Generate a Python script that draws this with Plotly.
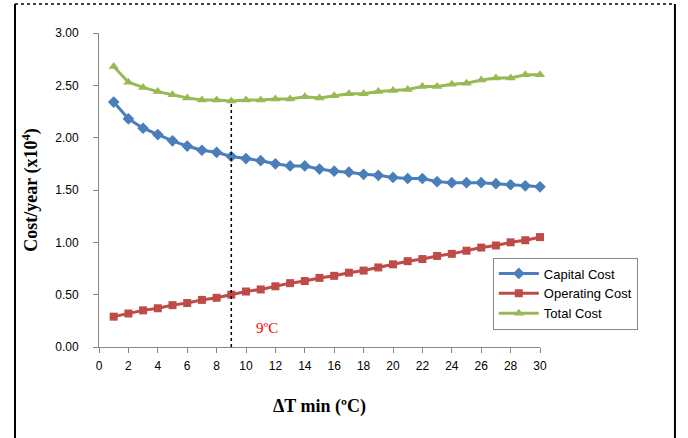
import plotly.graph_objects as go

dt_min = list(range(1, 31))
capital_cost = [2.34, 2.18, 2.09, 2.03, 1.97, 1.92, 1.88, 1.86, 1.82, 1.80,
                1.78, 1.75, 1.73, 1.73, 1.70, 1.68, 1.67, 1.65, 1.64, 1.62,
                1.61, 1.61, 1.58, 1.57, 1.57, 1.57, 1.56, 1.55, 1.54, 1.53]
operating_cost = [0.29, 0.32, 0.35, 0.37, 0.40, 0.42, 0.45, 0.47, 0.50, 0.53,
                  0.55, 0.58, 0.61, 0.63, 0.66, 0.68, 0.71, 0.73, 0.76, 0.79,
                  0.82, 0.84, 0.87, 0.89, 0.92, 0.95, 0.97, 1.00, 1.02, 1.05]
total_cost = [2.68, 2.53, 2.48, 2.44, 2.41, 2.38, 2.36, 2.36, 2.35, 2.36,
              2.36, 2.37, 2.37, 2.39, 2.38, 2.40, 2.42, 2.42, 2.44, 2.45,
              2.46, 2.49, 2.49, 2.51, 2.52, 2.55, 2.57, 2.57, 2.60, 2.60]
optimum_x = 9
optimum_total = 2.35
y_ticks = [0, 0.5, 1.0, 1.5, 2.0, 2.5, 3.0]
x_ticks = list(range(0, 31, 2))

fig = go.Figure()
fig.add_trace(go.Scatter(x=dt_min, y=capital_cost, name="Capital Cost", mode="lines+markers",
                         line=dict(color="#4A7EBB", width=3),
                         marker=dict(symbol="diamond", size=9, color="#4A7EBB"), cliponaxis=False))
fig.add_trace(go.Scatter(x=dt_min, y=operating_cost, name="Operating Cost", mode="lines+markers",
                         line=dict(color="#BE4B48", width=3),
                         marker=dict(symbol="square", size=8, color="#BE4B48"), cliponaxis=False))
fig.add_trace(go.Scatter(x=dt_min, y=total_cost, name="Total Cost", mode="lines+markers",
                         line=dict(color="#98B954", width=3),
                         marker=dict(symbol="triangle-up", size=9, color="#98B954"), cliponaxis=False))

fig.add_shape(type="line", x0=optimum_x, x1=optimum_x, y0=0, y1=optimum_total,
              line=dict(color="black", width=1.5, dash="dot"))
fig.add_annotation(x=11.4, y=0.18, text="9ºC", showarrow=False,
                   font=dict(family="Liberation Serif", size=15, color="#FF0000"))

# outer frame
fig.add_shape(type="line", xref="paper", yref="paper", x0=-0.1905, x1=1.306, y0=1.092, y1=1.092,
              line=dict(color="black", width=1.5, dash="dot"))
fig.add_shape(type="line", xref="paper", yref="paper", x0=-0.1905, x1=-0.1905, y0=1.092, y1=-0.32,
              line=dict(color="black", width=2))
fig.add_shape(type="line", xref="paper", yref="paper", x0=1.306, x1=1.306, y0=1.092, y1=-0.32,
              line=dict(color="black", width=2))

fig.update_layout(
    width=688, height=438,
    margin=dict(l=99, r=148, t=33, b=91),
    paper_bgcolor="white", plot_bgcolor="white",
    font=dict(family="Liberation Sans", size=12, color="black"),
    showlegend=True,
    legend=dict(x=0.893, y=0.285, xanchor="left", yanchor="top",
                bordercolor="#868686", borderwidth=1, bgcolor="white",
                font=dict(family="Liberation Sans", size=13), itemwidth=40,
                tracegroupgap=0),
    xaxis=dict(range=[0, 30], tickvals=x_ticks, showgrid=False, zeroline=False,
               showline=True, linecolor="#868686", linewidth=1,
               ticks="outside", ticklen=5, tickcolor="#868686", ticklabelstandoff=3,
               title=dict(text="<b>ΔT min (ºC)</b>",
                          font=dict(family="Liberation Serif", size=18, color="black"),
                          standoff=26)),
    yaxis=dict(range=[0, 3], tickvals=y_ticks, tickformat=".2f", showgrid=False, zeroline=False,
               showline=True, linecolor="#868686", linewidth=1,
               ticks="outside", ticklen=5, tickcolor="#868686", ticklabelstandoff=12,
               title=dict(text="<b>Cost/year (x10<sup>4</sup>)</b>",
                          font=dict(family="Liberation Serif", size=18, color="black"), standoff=12)),
)

fig.write_html("out.html", config={"displayModeBar": False},
               post_script="document.body.style.margin='0';")
